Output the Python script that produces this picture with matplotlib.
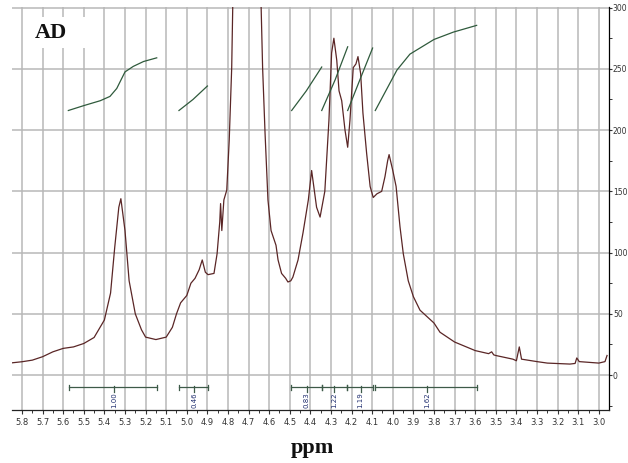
import matplotlib
matplotlib.use('Agg')
import matplotlib.pyplot as plt
from matplotlib.ticker import MultipleLocator, FixedLocator
from matplotlib.patches import Rectangle

# ---------------- data ----------------
spec_ppm = [5.849, 5.80, 5.75, 5.70, 5.65, 5.60, 5.55, 5.50, 5.45, 5.40, 5.37, 5.35,
            5.33, 5.32, 5.30, 5.28, 5.25, 5.22, 5.20, 5.15, 5.10, 5.07, 5.05, 5.03,
            5.00, 4.98, 4.96, 4.94, 4.925, 4.91, 4.897, 4.868, 4.853, 4.84, 4.836,
            4.83, 4.82, 4.806, 4.794, 4.782, 4.775, 4.75, 4.71, 4.67, 4.642, 4.632,
            4.62, 4.606, 4.591, 4.575, 4.567, 4.557, 4.54, 4.52, 4.509, 4.495, 4.485,
            4.46, 4.436, 4.41, 4.394, 4.37, 4.353, 4.33, 4.31, 4.297, 4.286, 4.272,
            4.261, 4.248, 4.232, 4.219, 4.208, 4.192, 4.179, 4.169, 4.156, 4.145,
            4.127, 4.11, 4.095, 4.077, 4.054, 4.038, 4.025, 4.018, 4.0, 3.984, 3.965,
            3.949, 3.925, 3.90, 3.868, 3.80, 3.771, 3.70, 3.60, 3.535, 3.52, 3.51,
            3.50, 3.417, 3.40, 3.386, 3.375, 3.30, 3.25, 3.14, 3.115, 3.107, 3.095,
            3.00, 2.97, 2.96]
spec_int = [10, 10.9, 12.2, 15, 19, 21.8, 23, 25.8, 30.7, 45, 67, 104,
            137, 144, 118, 77, 50, 37, 31, 29, 31, 39, 50, 59,
            65, 75, 79, 86, 94, 84, 82, 83, 99, 125, 140,
            118, 143, 151, 192, 251, 320, 800, 1200, 800, 320, 251,
            197, 143, 118, 110, 106, 94, 83, 79, 76, 77, 80,
            94, 116, 143, 167, 137, 129, 150, 208, 263, 275, 257,
            232, 224, 200, 186, 208, 251, 254, 260, 246, 214,
            181, 154, 145, 148, 150, 162, 175, 180, 167, 154, 121,
            99, 77, 64, 53, 42.5, 35, 27, 20, 17.5, 19, 16.5,
            16, 13, 11.7, 23, 13, 11, 9.8, 9, 9.5, 14, 11,
            9.8, 11, 16]

# integral curves (ppm, value)
int1_ppm = [5.575, 5.50, 5.42, 5.373, 5.34, 5.30, 5.26, 5.21, 5.146]
int1_val = [216, 220, 224, 227.5, 234, 247.5, 252, 256, 259]
int2_ppm = [5.038, 4.97, 4.90]
int2_val = [216, 225, 236]
int3_ppm = [4.491, 4.42, 4.345]
int3_val = [216, 232, 251.5]
int4_ppm = [4.345, 4.28, 4.219]
int4_val = [216, 241, 268]
int5_ppm = [4.219, 4.16, 4.098]
int5_val = [216, 241, 267]
int6_ppm = [4.085, 3.98, 3.917, 3.80, 3.706, 3.593]
int6_val = [216, 249, 262, 274, 280, 285.5]

# integration bars
bar_start = [5.572, 5.038, 4.494, 4.345, 4.221, 4.087]
bar_end = [5.143, 4.896, 4.345, 4.221, 4.095, 3.590]
bar_center = [5.353, 4.965, 4.418, 4.285, 4.156, 3.835]
bar_labels = ['1.00', '0.46', '0.83', '1.22', '1.19', '1.62']

x_ticks = [round(5.8 - 0.1 * i, 1) for i in range(29)]
y_ticks = [0, 50, 100, 150, 200, 250, 300]

# ---------------- figure ----------------
W, H = 628, 463
fig = plt.figure(figsize=(W / 100, H / 100), dpi=100)
ax = fig.add_axes([12 / W, 1 - 410 / H, (609 - 12) / W, (410 - 7) / H])
ax.set_xlim(5.8485, 2.9505)
ax.set_ylim(-28.5, 300.5)

grid_c = '#b8b8b8'
ax.xaxis.set_major_locator(FixedLocator(x_ticks))
ax.xaxis.set_minor_locator(MultipleLocator(0.05))
ax.set_xticklabels([f'{t:.1f}' for t in x_ticks])
ax.yaxis.set_major_locator(FixedLocator(y_ticks))
ax.yaxis.set_minor_locator(MultipleLocator(25))
ax.yaxis.tick_right()
ax.grid(True, which='major', color=grid_c, lw=1.1, zorder=0)

for s in ['left', 'top']:
    ax.spines[s].set_visible(False)
ax.spines['right'].set_color('black')
ax.spines['right'].set_linewidth(0.9)
ax.spines['bottom'].set_color('#222222')
ax.spines['bottom'].set_linewidth(0.9)

ax.tick_params(axis='x', which='major', direction='out', length=3, width=0.8,
               labelsize=6, colors='#333333', pad=3)
ax.tick_params(axis='x', which='minor', direction='out', length=2, width=0.7, colors='#333333')
ax.tick_params(axis='y', which='major', direction='out', length=2.5, width=0.8,
               labelsize=5.5, colors='#333333', pad=0.3)
ax.tick_params(axis='y', which='minor', direction='out', length=2, width=0.7, colors='#333333')

# white box behind AD label
ax.add_patch(Rectangle((25 / W, 1 - 48 / H), 70 / W, 31 / H, transform=fig.transFigure,
                       facecolor='white', edgecolor='none', zorder=2))

# spectrum
ax.plot(spec_ppm, spec_int, color='#5a2626', lw=0.9, zorder=3)

# integral curves
ic = '#2f5a3c'
for xs, ys in [(int1_ppm, int1_val), (int2_ppm, int2_val), (int3_ppm, int3_val),
               (int4_ppm, int4_val), (int5_ppm, int5_val), (int6_ppm, int6_val)]:
    ax.plot(xs, ys, color=ic, lw=0.9, zorder=3)

# integration bars
bc = '#3d5a48'
by = -10
for s, e, c, lab in zip(bar_start, bar_end, bar_center, bar_labels):
    ax.plot([s, e], [by, by], color=bc, lw=0.9, zorder=3)
    ax.plot([s, s], [by - 1.8, by + 1.8], color=bc, lw=0.9, zorder=3)
    ax.plot([e, e], [by - 1.8, by + 1.8], color=bc, lw=0.9, zorder=3)
    ax.plot([c, c], [by - 3.5, by + 1.5], color=bc, lw=0.9, zorder=3)
    ax.text(c, by - 4.0, lab, rotation=90, ha='center', va='top', fontsize=5,
            color='#1f2d6e', zorder=4)

fig.text(35 / W, 1 - 33 / H, 'AD', ha='left', va='center', fontsize=16,
         fontweight='bold', family='Liberation Serif', color='#111111')
fig.text(312 / W, 1 - 448 / H, 'ppm', ha='center', va='center', fontsize=16,
         fontweight='bold', family='Liberation Serif', color='#111111')

fig.savefig('out.png', dpi=100)
